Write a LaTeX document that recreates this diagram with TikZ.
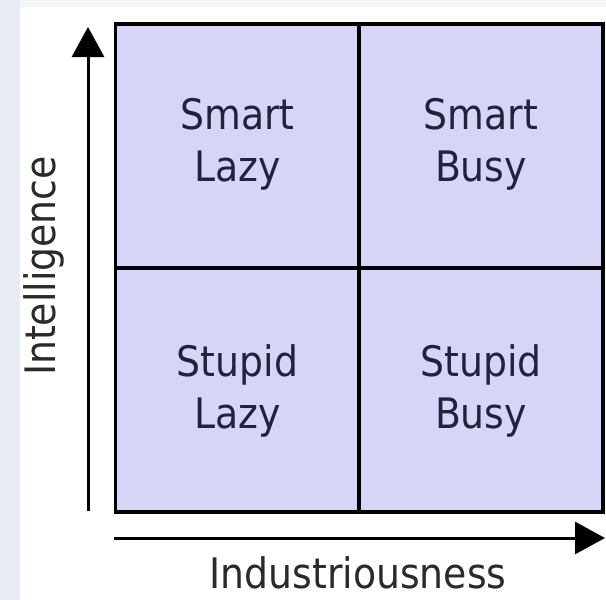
\documentclass[tikz,border=0pt]{standalone}
\usepackage{fontspec}
\setmainfont{DejaVu Sans Condensed}
\usetikzlibrary{arrows.meta}
\definecolor{cellblue}{HTML}{D5D5F8}
\definecolor{textnavy}{HTML}{22223C}
\definecolor{axisgray}{HTML}{2A2A2A}
\definecolor{stripblue}{HTML}{E6EBF4}
\definecolor{striptop}{HTML}{F2F6F7}
\begin{document}
\begin{tikzpicture}
[x=1pt,y=-1pt,
  celldecorate/.style={shape=rectangle,draw=black,line width=3.5pt,fill=cellblue,
    minimum width=244pt,minimum height=244pt,inner sep=0pt},%
  worddecorate/.style={font=\fontsize{42}{52}\selectfont,text=textnavy,align=center},%
  axisdecorate/.style={-{Triangle[length=30pt,width=32pt]},line width=3pt},%
  labeldecorate/.style={font=\fontsize{42}{48}\selectfont,text=axisgray}]
%% page and background strips
\useasboundingbox (0,0) rectangle (606,600);
\fill[stripblue] (0,0) rectangle (20,600);
\fill[striptop] (20,0) rectangle (606,7);
%% quadrants
\foreach \cellname/\x/\y in {
  smartlazy/237.5/146, smartbusy/481/146,
  stupidlazy/237.5/390, stupidbusy/481/390} {
  \node (\cellname) at (\x,\y) [celldecorate] {};
}
%% quadrant words
\foreach \cellname/\dy/\words in {
  smartlazy/-2/{Smart\\Lazy}, smartbusy/-2/{Smart\\Busy},
  stupidlazy/1/{Stupid\\Lazy}, stupidbusy/1/{Stupid\\Busy}} {
  \node (\cellname-text) at ([yshift=-\dy pt]\cellname.center) [worddecorate] {\words};
}
%% axes
\coordinate (yfoot) at (88,511);
\coordinate (ytip) at (88,27);
\coordinate (xfoot) at (114,538);
\coordinate (xtip) at (605,538);
\draw[axisdecorate] (yfoot) -- (ytip);
\draw[axisdecorate] (xfoot) -- (xtip);
%% axis labels
\node (intelligence) at (44,266) [labeldecorate,rotate=90] {Intelligence};
\node (industriousness) at (358,588) [labeldecorate,anchor=base] {Industriousness};
\end{tikzpicture}
\end{document}
